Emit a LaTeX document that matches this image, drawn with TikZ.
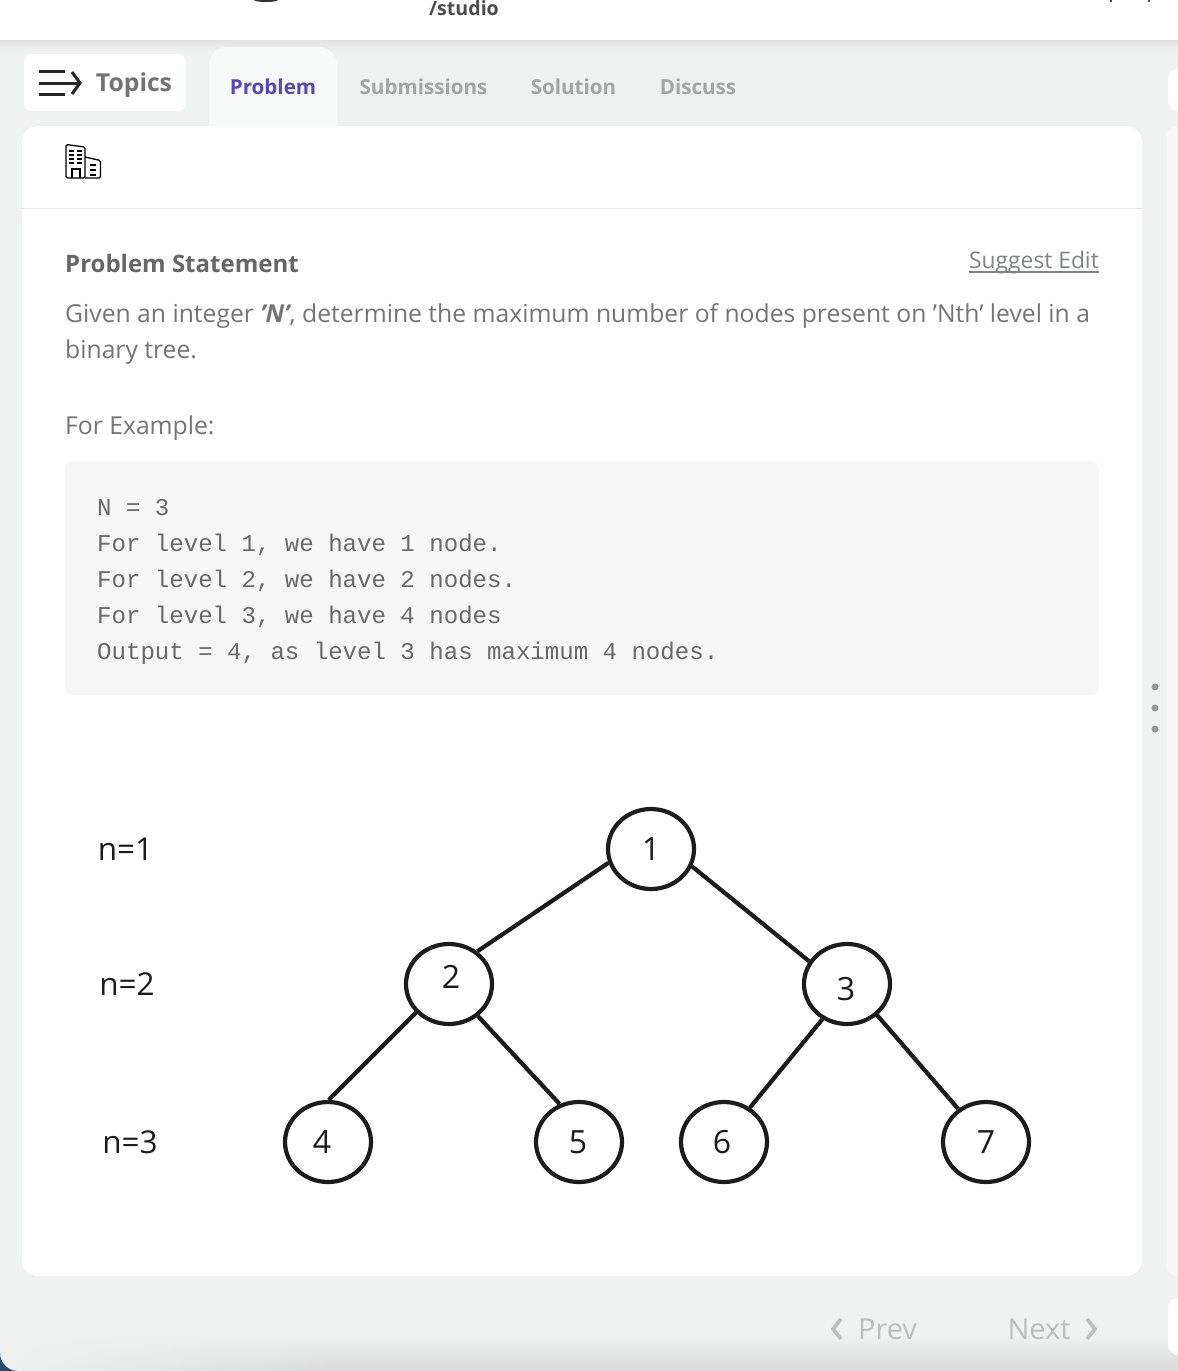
\documentclass[tikz,border=0pt]{standalone}
\usepackage{fontspec}
\setmainfont{Open Sans}[Ligatures=ResetAll]
\setmonofont{Liberation Mono}
\usetikzlibrary{calc,positioning,shapes.geometric,shadings,fadings}
\definecolor{pagegray}{HTML}{F0F2F2}
\definecolor{tabgray}{HTML}{F8F9F9}
\definecolor{codegray}{HTML}{F7F7F7}
\definecolor{ruleline}{HTML}{E6E8E8}
\definecolor{bodytext}{HTML}{757575}
\definecolor{headtext}{HTML}{666666}
\definecolor{tabtext}{HTML}{A3A5A5}
\definecolor{navtext}{HTML}{BDBFBF}
\definecolor{activetab}{HTML}{5A45BE}
\definecolor{treeink}{HTML}{1C1C1C}
\definecolor{cornerblue}{HTML}{2C4A6E}
\tikzstyle{tree node}=[ellipse,draw=treeink,line width=4.2pt,minimum width=86pt,minimum height=80pt,inner sep=0pt]
\tikzstyle{tree text}=[font=\fontsize{32}{32}\selectfont,text=treeink,inner sep=0pt]
\tikzstyle{tree edge}=[draw=treeink,line width=4.2pt]
\tikzstyle{level label}=[font=\fontsize{31.5}{31.5}\selectfont,text=treeink,inner sep=0pt]
\tikzstyle{tab label}=[font=\fontsize{20.6}{20.6}\selectfont\bfseries,text=tabtext,inner sep=0pt]
\tikzstyle{body line}=[font=\fontsize{24.7}{24.7}\selectfont,text=bodytext,inner sep=0pt,anchor=base west]
\tikzstyle{code line}=[font=\fontsize{24.07}{24.07}\selectfont\ttfamily,text=bodytext!90!black,inner sep=0pt,anchor=base west]
\tikzstyle{nav label}=[font=\fontsize{29}{29}\selectfont,text=navtext,inner sep=0pt]
\tikzstyle{nav chevron}=[draw=navtext,line width=3.6pt]
\tikzstyle{icon line}=[draw=black,line width=1.3pt]
\begin{document}
\begin{tikzpicture}[x=1pt,y=-1pt]
  \useasboundingbox (0,0) rectangle (1178,1371);
  \fill[pagegray] (0,0) rectangle (1178,1371);
  % header band
  \shade[top color=black!12,bottom color=pagegray] (0,40) rectangle (1178,52);
  \fill[white] (0,0) rectangle (1178,40);
  \fill[black!80] (254,0) arc[start angle=180,end angle=360,x radius=12pt,y radius=2pt] -- cycle;
  \fill[black!70] (1110,0) rectangle (1112,2);
  \fill[black!70] (1148,0) rectangle (1150,2);
  \node[font=\fontsize{19.6}{19.6}\selectfont\bfseries,text=black!70,inner sep=0pt] (studio) at (464,8) {/studio};
  % bottom fade
  \shade[top color=pagegray,bottom color=black!15] (0,1335) rectangle (1178,1371);
  \fill[pagegray,path fading=east] (0,1330) rectangle (340,1371);
  \fill[cornerblue] (0,1371) -- (0,1353) arc[start angle=180,end angle=270,radius=18pt] -- cycle;
  % side panels
  \fill[white,rounded corners=10pt] (1168,69) rectangle (1200,111);
  \fill[codegray,rounded corners=10pt] (1167,126) rectangle (1200,1276);
  \fill[white,rounded corners=10pt] (1168,1298) rectangle (1200,1355);
  \foreach \dotpos in {687,708,729}
    \fill[black!40] (1155,\dotpos) circle[radius=3.5pt];
  % tabs
  \fill[white,rounded corners=8pt] (24,54) rectangle (186,111);
  \fill[tabgray,rounded corners=18pt] (209,47) rectangle (337,160);
  \fill[white,rounded corners=16pt] (22,126) rectangle (1142,1276);
  \draw[ruleline,line width=1pt] (22,208.5) -- (1142,208.5);
  % topics icon
  \draw[black!85,line width=3pt] (39,71) -- (65,71);
  \draw[black!85,line width=3pt] (39,83) -- (79,83);
  \draw[black!85,line width=3pt] (39,94) -- (65,94);
  \draw[black!85,line width=3pt] (72,72) -- (80,83) -- (72,94);
  \node[font=\fontsize{24.7}{24.7}\selectfont\bfseries,text=black!55,inner sep=0pt] (topics) at (134,85) {Topics};
  \node[tab label,text=activetab] (problem) at (273,87) {Problem};
  \node[tab label] (submissions) at (423.5,87) {Submissions};
  \node[tab label] (solution) at (573.5,87) {Solution};
  \node[tab label] (discuss) at (698,87) {Discuss};
  % building icon
  \draw[icon line,rounded corners=1.5pt] (85,178) -- (66,178) -- (66,144.5) -- (85,147) -- cycle;
  \draw[icon line,rounded corners=1.5pt] (85,157) -- (100.5,160.5) -- (100.5,178) -- (85,178);
  \draw[icon line] (72,178) -- (72,169) -- (80,169) -- (80,178);
  \foreach \rowy in {151,155,159,163}
    \draw[icon line] (69,\rowy) -- (74,\rowy) (77,\rowy) -- (82,\rowy);
  \foreach \rowy in {165,170,175}
    \draw[icon line] (90,\rowy) -- (96,\rowy);
  % statement
  \node[body line,font=\fontsize{24}{24}\selectfont\bfseries,text=headtext] (heading) at (65,272) {Problem Statement};
  \node[font=\fontsize{22.8}{22.8}\selectfont,text=tabtext!80!black,inner sep=0pt,anchor=base east] (suggest) at (1099,268) {Suggest Edit};
  \draw[tabtext!80!black,line width=1.2pt] (suggest.base west)+(0,4) -- ($(suggest.base east)+(0,4)$);
  \node[body line] (line1) at (65,322) {Given an integer \textit{\textbf{'N'}}, determine the maximum number of nodes present on 'Nth' level in a};
  \node[body line] (line2) at (65,358) {binary tree.};
  \node[body line] (example) at (65,434) {For Example:};
  % code box
  \fill[codegray,rounded corners=8pt] (65,461) rectangle (1099,695);
  \node[code line] (code1) at (97,515) {N = 3};
  \node[code line] (code2) at (97,551) {For level 1, we have 1 node.};
  \node[code line] (code3) at (97,587) {For level 2, we have 2 nodes.};
  \node[code line] (code4) at (97,623) {For level 3, we have 4 nodes};
  \node[code line] (code5) at (97,659) {Output = 4, as level 3 has maximum 4 nodes.};
  % tree
  \node[level label] (l1) at (125.5,849) {n=1};
  \node[level label] (l2) at (127,984) {n=2};
  \node[level label] (l3) at (130,1142) {n=3};
  \node[tree node,label={[tree text]center:1}] (n1) at (651,849) {};
  \node[tree node,label={[tree text,yshift=7pt,xshift=2pt]center:2}] (n2) at (449,984) {};
  \node[tree node,label={[tree text,yshift=-5pt,xshift=-1pt]center:3}] (n3) at (847,984) {};
  \node[tree node,label={[tree text,xshift=-6pt]center:4}] (n4) at (328,1142) {};
  \node[tree node,label={[tree text,xshift=-1pt]center:5}] (n5) at (579,1142) {};
  \node[tree node,label={[tree text,xshift=-2pt]center:6}] (n6) at (724,1142) {};
  \node[tree node,label={[tree text]center:7}] (n7) at (986,1142) {};
  \path[tree edge] (n1.198) edge (n2.49);
  \path[tree edge] (n1.-23) edge (n3.149);
  \path[tree edge] (n2.221) edge (n4.89);
  \path[tree edge] (n2.-48) edge (n5.117);
  \path[tree edge] (n3.235) edge (n6.53);
  \path[tree edge] (n3.-46) edge (n7.130);
  % prev and next
  \node[nav label] (prev) at (887.5,1329) {Prev};
  \node[nav label] (next) at (1039,1329) {Next};
  \draw[nav chevron] (841,1319) -- (833,1329) -- (841,1339);
  \draw[nav chevron] (1087,1319) -- (1095,1329) -- (1087,1339);
\end{tikzpicture}
\end{document}
